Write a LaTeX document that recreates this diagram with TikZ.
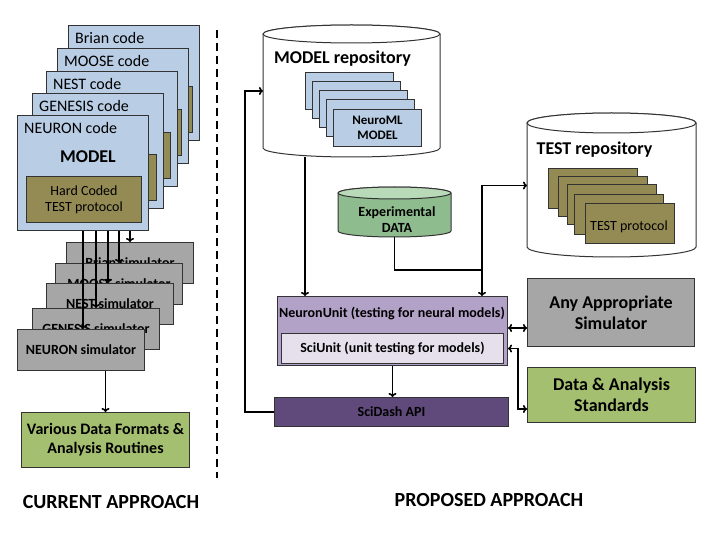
\documentclass[tikz,border=0pt]{standalone}
\usepackage{fontspec}
\setmainfont{Carlito}
\usetikzlibrary{arrows.meta,calc}
\definecolor{codeblue}{HTML}{B9CDE5}
\definecolor{olivefill}{HTML}{948A54}
\definecolor{simgray}{HTML}{A6A6A6}
\definecolor{stdgreen}{HTML}{A5BF70}
\definecolor{datagreen}{HTML}{8FBC8F}
\definecolor{datatop}{HTML}{B9DAB9}
\definecolor{nulav}{HTML}{B3A2C7}
\definecolor{sulav}{HTML}{E6E0EC}
\definecolor{sdpurple}{HTML}{604A7B}
\definecolor{edgecol}{HTML}{333333}
\newcommand{\drawcyl}[7]{%
  \pgfmathsetlengthmacro\cylrx{(#2-#1)/2*1pt}%
  \pgfmathsetmacro\cylcx{(#1+#2)/2}%
  \draw[draw=edgecol, line width=1pt, fill=#6] (#1,#3) -- (#1,#4)
     arc[start angle=180, end angle=360, x radius=\cylrx, y radius=#5pt] -- (#2,#3)
     arc[start angle=0, end angle=180, x radius=\cylrx, y radius=#5pt] -- cycle;
  \draw[draw=edgecol, line width=1pt, fill=#7] (\cylcx,#3) ellipse[x radius=\cylrx, y radius=#5pt];
}
\begin{document}
\begin{tikzpicture}[x=1pt,y=-1pt,
  box/.style={draw=edgecol, line width=1pt, inner sep=0pt, anchor=north west},
  codebox/.style={box, fill=codeblue, minimum width=131pt, minimum height=115pt},
  hcbox/.style={box, fill=olivefill, minimum width=115pt, minimum height=46pt},
  simbox/.style={box, fill=simgray, minimum width=127pt, minimum height=41pt, font=\fontsize{14}{16}\selectfont\bfseries},
  nmlbox/.style={box, fill=codeblue, minimum width=88pt, minimum height=37pt},
  tpbox/.style={box, fill=olivefill, minimum width=89pt, minimum height=40pt},
  ghost/.style={inner sep=0pt, outer sep=0pt},
  txt/.style={inner sep=0pt, align=center, text=black},
  link/.style={line width=1.6pt, draw=black},
  conn/.style={link, -{To[length=4pt,width=8pt]}},
  conntwo/.style={link, {To[length=4pt,width=8pt]}-{To[length=4pt,width=8pt]}},
  sepline/.style={line width=1.5pt, dash pattern=on 8pt off 5pt},
  fa/.style={font=\fontsize{14}{16}\selectfont},
  fcode/.style={font=\fontsize{16}{18}\selectfont},
  fab/.style={font=\fontsize{16}{19}\selectfont\bfseries},
  fbig/.style={font=\fontsize{18}{21}\selectfont\bfseries},
  ftitle/.style={font=\fontsize{20}{22}\selectfont\bfseries},
  fsm/.style={font=\fontsize{14}{16}\selectfont\bfseries},
  fnml/.style={font=\fontsize{13}{15}\selectfont\bfseries},
  fdata/.style={font=\fontsize{14}{16}\selectfont\bfseries}]
\useasboundingbox (0,0) rectangle (720,540);

% ---------------- CURRENT APPROACH ----------------
\foreach \nm/\xx/\yy in {Brian/68/25,MOOSE/57/48,NEST/46/71,GENESIS/32/93,NEURON/17/115}{
  \node[codebox] (code\nm) at (\xx,\yy) {};
  \node[hcbox] (hc\nm) at ($(code\nm.north west)+(9,61)$) {};
  \node[txt, fcode, anchor=west] (codelab\nm) at ($(code\nm.north west)+(7,13)$) {\nm\ code};
}
\node[txt, fbig] (modeltxt) at ($(codeNEURON.north west)+(71,42)$) {MODEL};
\node[txt, fa] (hctxt) at (hcNEURON.center) {Hard Coded\\TEST protocol};

\foreach \nm/\xx/\yy in {Brian/66/242,MOOSE/55/263,NEST/46/283,GENESIS/32/308,NEURON/17/329}{
  \node[simbox] (sim\nm) at (\xx,\yy) {\nm\ simulator};
}
\foreach \nm/\xx in {Brian/130,MOOSE/119,NEST/108,GENESIS/96,NEURON/83}{
  \coordinate (ax\nm) at (\xx,0);
  \draw[conn] (codeNEURON.south -| ax\nm) -- (sim\nm.north -| ax\nm);
}

\node[box, fill=stdgreen, minimum width=168pt, minimum height=55pt] (various) at (21,412) {};
\node[txt, fab] (varioustxt) at (various.center) {Various Data Formats \&\\Analysis Routines};
\draw[conn] (simNEURON.south -| various.north) -- (various.north);

\coordinate (septop) at (217,30);
\coordinate (sepbot) at (217,478);
\draw[sepline] (septop) -- (sepbot);

\node[txt, ftitle] (current) at (111,502) {CURRENT APPROACH};
\node[txt, ftitle] (proposed) at (489,500) {PROPOSED APPROACH};

% ---------------- PROPOSED APPROACH ----------------
% MODEL repository
\drawcyl{263}{440}{34}{148}{9}{white}{white}
\node[ghost, minimum width=177pt, minimum height=132pt] (modelrepo) at (351.5,91) {};
\node[txt, fbig] (modelrepotxt) at (342.5,59) {MODEL repository};
\foreach \xx/\yy [count=\i] in {305/72,312/81,319/90,326/99,333/109}{
  \node[nmlbox] (nml\i) at (\xx,\yy) {};
}
\node[txt, fnml] (nmltxt) at (nml5.center) {NeuroML\\MODEL};

% TEST repository
\drawcyl{527}{696}{123}{247}{10}{white}{white}
\node[ghost, minimum width=169pt, minimum height=145pt] (testrepo) at (611.5,185.5) {};
\node[txt, fbig] (testrepotxt) at (594.5,150) {TEST repository};
\foreach \xx/\yy [count=\i] in {548/168,558/176,567/184,574/194,585/203}{
  \node[tpbox] (tp\i) at (\xx,\yy) {};
}
\node[txt, fa] (tptxt) at (629,227) {TEST protocol};

% Experimental DATA
\drawcyl{338}{451}{193}{231}{6}{datagreen}{datatop}
\node[ghost, minimum width=113pt, minimum height=50pt] (data) at (394.5,212) {};
\node[txt, fdata] (datatxt) at (397,220) {Experimental\\DATA};

% NeuronUnit / SciUnit / SciDash
\node[box, fill=nulav, minimum width=230pt, minimum height=69pt] (neuronunit) at (277,296) {};
\node[txt, fsm] (nutxt) at (392,313) {NeuronUnit (testing for neural models)};
\node[box, fill=sulav, minimum width=222pt, minimum height=30pt] (sciunit) at (281,333) {};
\node[txt, fsm] (sutxt) at (sciunit.center) {SciUnit (unit testing for models)};
\node[box, fill=sdpurple, minimum width=234pt, minimum height=29pt] (scidash) at (274,397) {};
\node[txt, fsm] (sdtxt) at (scidash.center) {SciDash API};

\node[box, fill=simgray, minimum width=167pt, minimum height=68pt] (anysim) at (527,278) {};
\node[txt, fbig] (anysimtxt) at (anysim.center) {Any Appropriate\\Simulator};
\node[box, fill=stdgreen, minimum width=168pt, minimum height=55pt] (dastd) at (527,367) {};
\node[txt, fbig] (dastdtxt) at (dastd.center) {Data \& Analysis\\Standards};

% connectors
\coordinate (axM) at (305,0);
\draw[conn] (modelrepo.south -| axM) -- (neuronunit.north -| axM);
\coordinate (jn) at (482,270);
\draw[link] (data.south) |- (jn);
\draw[conn] (jn) -- (neuronunit.north -| jn);
\draw[conn] (jn) |- (testrepo.west);
\draw[conn] (neuronunit.south) -- (scidash.north -| neuronunit.south);
\coordinate (axL) at (245,0);
\draw[conn] (scidash.west) -- (scidash.west -| axL) |- (modelrepo.west);
\coordinate (yd) at (0,328);
\draw[conntwo] (neuronunit.east |- yd) -- (anysim.west |- yd);
\coordinate (axR) at (518,0);
\coordinate (ydd) at (0,409);
\draw[conntwo] (neuronunit.east |- sciunit.east) -- (axR |- sciunit.east) -- (axR |- ydd) -- (dastd.west |- ydd);
\end{tikzpicture}
\end{document}
